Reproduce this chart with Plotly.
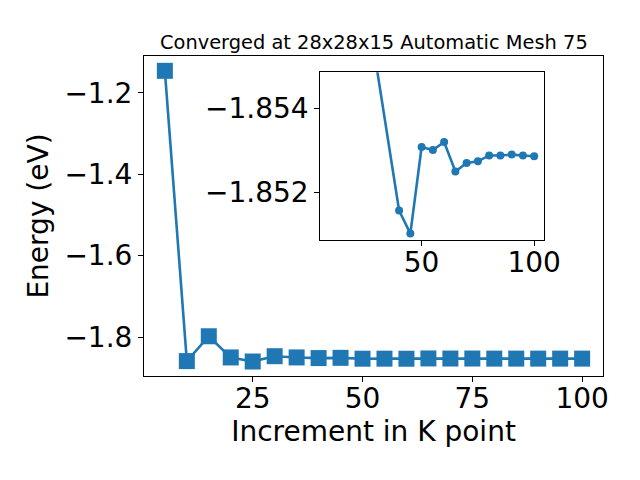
import plotly.graph_objects as go

k_points = [5, 10, 15, 20, 25, 30, 35, 40, 45, 50, 55, 60, 65, 70, 75, 80, 85, 90, 95, 100]
energy = [-1.146, -1.859, -1.798, -1.850, -1.860, -1.847, -1.850, -1.8516, -1.8510, -1.8531,
          -1.8530, -1.8532, -1.8525, -1.8527, -1.8527, -1.8529, -1.8529, -1.8529, -1.8529, -1.8529]

inset_k = [25, 40, 45, 50, 55, 60, 65, 70, 75, 80, 85, 90, 95, 100]
inset_energy = [-1.8567, -1.85157, -1.85102, -1.85308, -1.85301, -1.85320, -1.85250, -1.85270,
                -1.85274, -1.85288, -1.85288, -1.85290, -1.85288, -1.85286]

main_yticks = [-1.8, -1.6, -1.4, -1.2]
main_xticks = [25, 50, 75, 100]
inset_yticks = [-1.854, -1.852]
inset_xticks = [50, 100]

title_text = "Converged at 28x28x15 Automatic Mesh 75"
xlabel = "Increment in K point"
ylabel = "Energy (eV)"

blue = "#1f77b4"
font = "DejaVu Sans"
tick_size = 28

# the page body keeps its default 8px margin, so a 624x464 figure fills 640x480
W, H, OFF = 624, 464, 8


def px_x(a, b):
    return [(a - OFF) / W, (b - OFF) / W]


def px_y(top, bottom):
    return [(H - (bottom - OFF)) / H, (H - (top - OFF)) / H]


def fmt(v, nd):
    s = f"{abs(v):.{nd}f}"
    return ("\u2212" + s) if v < 0 else s


fig = go.Figure()
fig.add_trace(go.Scatter(x=k_points, y=energy, mode="lines+markers",
                         line=dict(color=blue, width=2.6),
                         marker=dict(symbol="square", size=16, color=blue),
                         xaxis="x", yaxis="y", showlegend=False))
fig.add_trace(go.Scatter(x=inset_k, y=inset_energy, mode="lines+markers",
                         line=dict(color=blue, width=2.6),
                         marker=dict(symbol="circle", size=8, color=blue),
                         xaxis="x2", yaxis="y2", showlegend=False, cliponaxis=True))

axis_common = dict(showgrid=False, zeroline=False, showline=True, linecolor="black",
                   linewidth=1, mirror=True, ticks="outside", ticklen=5, tickwidth=1,
                   automargin=False,
                   tickcolor="black", tickfont=dict(family=font, size=tick_size, color="black"))

fig.update_layout(
    width=W, height=H, autosize=False,
    margin=dict(l=0, r=0, t=0, b=0, pad=0, autoexpand=False),
    paper_bgcolor="white", plot_bgcolor="white",
    font=dict(family=font, color="black"),
    xaxis=dict(domain=px_x(144, 603), range=[0.25, 104.75],
               tickvals=main_xticks, ticktext=[str(v) for v in main_xticks],
               ticklabelstandoff=-8,
               title=dict(text=xlabel, font=dict(family=font, size=tick_size), standoff=7),
               anchor="y", **axis_common),
    yaxis=dict(domain=px_y(56, 376), range=[-1.8956, -1.1096],
               tickvals=main_yticks, ticktext=[fmt(v, 1) for v in main_yticks],
               title=dict(text=ylabel, font=dict(family=font, size=tick_size), standoff=7),
               anchor="x", **axis_common),
    xaxis2=dict(domain=px_x(320.3, 544.3), range=[5, 104.5],
                tickvals=inset_xticks, ticktext=[str(v) for v in inset_xticks],
                ticklabelstandoff=-8,
                anchor="y2", **axis_common),
    yaxis2=dict(domain=px_y(72.3, 240.3), range=[-1.85086, -1.85486],
                tickvals=inset_yticks, ticktext=[fmt(v, 3) for v in inset_yticks],
                anchor="x2", **axis_common),
    annotations=[dict(text=title_text, x=(373.5 - OFF) / W, xref="paper",
                      y=(H - (42 - OFF)) / H, yref="paper", yanchor="middle",
                      showarrow=False, font=dict(family=font, size=19.4))],
)

fig.write_html("out.html", config={"displayModeBar": False, "responsive": False})
